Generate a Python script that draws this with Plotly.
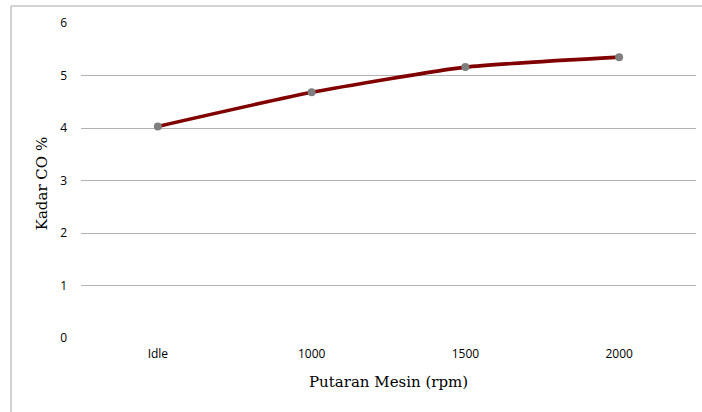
import plotly.graph_objects as go

# Engine speed categories and CO content (%)
putaran = ["Idle", "1000", "1500", "2000"]
kadar_co = [4.03, 4.68, 5.16, 5.35]
y_ticks = [0, 1, 2, 3, 4, 5, 6]

fig = go.Figure()
fig.add_trace(go.Scatter(
    x=putaran,
    y=kadar_co,
    mode="lines+markers",
    line=dict(color="#800000", width=3.6, shape="spline", smoothing=0.5),
    marker=dict(color="#7f7f7f", size=8),
    showlegend=False,
))

tick_font = dict(family="Open Sans, Liberation Sans, sans-serif", size=12, color="#000000")
title_font = dict(family="DejaVu Serif, serif", size=15, color="#000000")

fig.update_layout(
    width=702,
    height=412,
    margin=dict(l=81, r=6, t=23, b=74),
    paper_bgcolor="white",
    plot_bgcolor="white",
    font=tick_font,
    xaxis=dict(
        type="category",
        range=[-0.5, 3.5],
        showgrid=False,
        showline=False,
        zeroline=False,
        ticks="",
        ticklabelstandoff=7,
        tickfont=tick_font,
    ),
    yaxis=dict(
        range=[0, 6],
        tickvals=y_ticks,
        showgrid=True,
        gridcolor="#b3b3b3",
        gridwidth=1.3,
        zeroline=False,
        showline=False,
        ticks="",
        ticklabelstandoff=13,
        tickfont=tick_font,
    ),
    annotations=[
        dict(text="Putaran Mesin (rpm)", xref="paper", yref="paper",
             x=0.5, y=-0.14, xanchor="center", yanchor="middle", showarrow=False,
             font=title_font),
        dict(text="Kadar CO %", xref="paper", yref="paper",
             x=-0.064, y=0.49, xanchor="center", yanchor="middle", showarrow=False,
             textangle=-90, font=title_font),
    ],
    shapes=[
        # frame around the chart (top and left edges)
        dict(type="line", xref="paper", yref="paper",
             x0=-0.1138, x1=1.02, y0=1.054, y1=1.054,
             line=dict(color="#c4c4c4", width=1.5)),
        dict(type="line", xref="paper", yref="paper",
             x0=-0.1138, x1=-0.1138, y0=1.054, y1=-0.25,
             line=dict(color="#c4c4c4", width=1.5)),
    ],
)

fig.write_html("out.html")
